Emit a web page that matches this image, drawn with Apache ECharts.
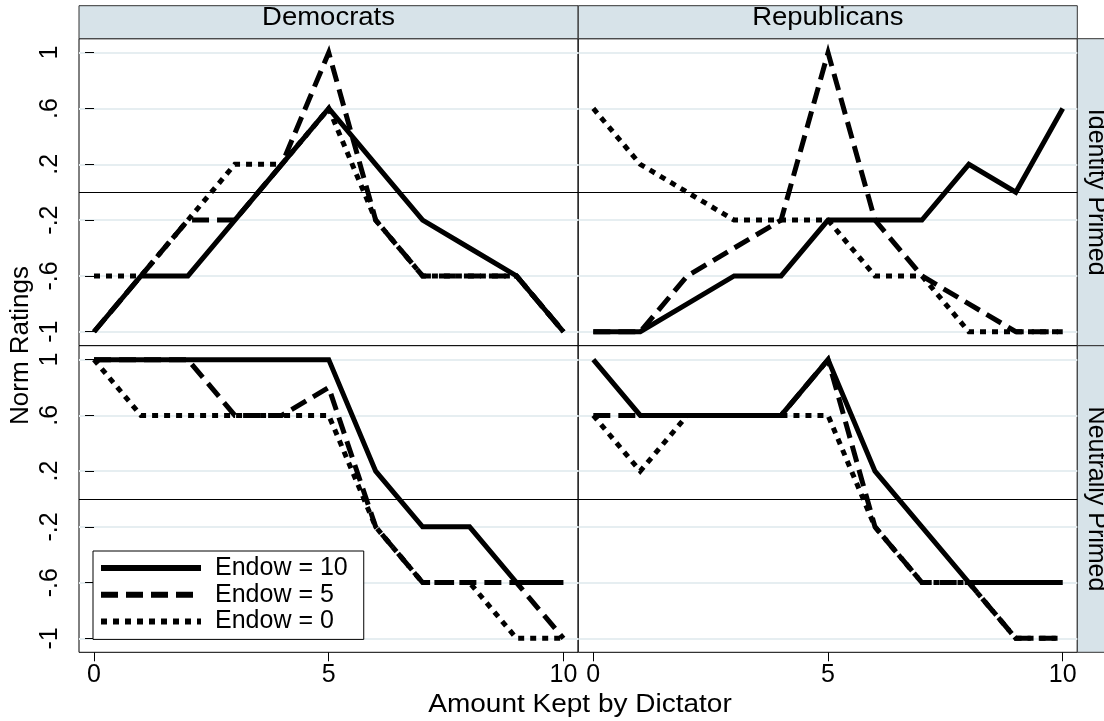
<!DOCTYPE html>
<html>
<head>
<meta charset="utf-8">
<script src="https://cdn.jsdelivr.net/npm/echarts@6/dist/echarts.min.js"></script>
<style>
  html, body { margin: 0; padding: 0; background: #fff; }
  #chart { width: 1104px; height: 721px; }
</style>
</head>
<body>
<div id="chart"></div>
<script>
// amount kept by the dictator (x)
const kept = [0, 1, 2, 3, 4, 5, 6, 7, 8, 9, 10]
const xTicks = [0, 5, 10]
const yTicks = [-1, -0.6, -0.2, 0.2, 0.6, 1]
const yTickLabels = ['-1', '-.6', '-.2', '.2', '.6', '1']
const parties = ['Democrats', 'Republicans']
const primes = ['Identity Primed', 'Neutrally Primed']
const endowNames = ['Endow = 10', 'Endow = 5', 'Endow = 0']

// Democrats, identity primed
const demIdEndow10 = [-1, -0.6, -0.6, -0.2, 0.2, 0.6, 0.2, -0.2, -0.4, -0.6, -1]
const demIdEndow5 = [-1, -0.6, -0.2, -0.2, 0.2, 1, -0.2, -0.6, -0.6, -0.6, -1]
const demIdEndow0 = [-0.6, -0.6, -0.2, 0.2, 0.2, 0.6, -0.2, -0.6, -0.6, -0.6, -1]
// Republicans, identity primed
const repIdEndow10 = [-1, -1, -0.8, -0.6, -0.6, -0.2, -0.2, -0.2, 0.2, 0, 0.6]
const repIdEndow5 = [-1, -1, -0.6, -0.4, -0.2, 1, -0.2, -0.6, -0.8, -1, -1]
const repIdEndow0 = [0.6, 0.2, 0, -0.2, -0.2, -0.2, -0.6, -0.6, -1, -1, -1]
// Democrats, neutrally primed
const demNeEndow10 = [1, 1, 1, 1, 1, 1, 0.2, -0.2, -0.2, -0.6, -0.6]
const demNeEndow5 = [1, 1, 1, 0.6, 0.6, 0.8, -0.2, -0.6, -0.6, -0.6, -1]
const demNeEndow0 = [1, 0.6, 0.6, 0.6, 0.6, 0.6, -0.2, -0.6, -0.6, -1, -1]
// Republicans, neutrally primed
const repNeEndow10 = [1, 0.6, 0.6, 0.6, 0.6, 1, 0.2, -0.2, -0.6, -0.6, -0.6]
const repNeEndow5 = [0.6, 0.6, 0.6, 0.6, 0.6, 1, -0.2, -0.6, -0.6, -1, -1]
const repNeEndow0 = [0.6, 0.2, 0.6, 0.6, 0.6, 0.6, -0.2, -0.6, -0.6, -1, -1]

const panelData = [
  [demIdEndow10, demIdEndow5, demIdEndow0],
  [repIdEndow10, repIdEndow5, repIdEndow0],
  [demNeEndow10, demNeEndow5, demNeEndow0],
  [repNeEndow10, repNeEndow5, repNeEndow0]
]

const font = 'Liberation Sans, Arial, Helvetica, sans-serif'
const fontSize = 25
const lineTypes = ['solid', [17, 8], [6, 6]]
const stripColor = '#d7e3e9'

// panel layout: left column / right column, top row / bottom row
const colLeft = [79, 578.3]
const rowTop = [38.7, 345.7]
const panelW = 499
const panelH = [307, 306.6]

function tickLabel (v) {
  for (let i = 0; i < yTicks.length; i++) {
    if (Math.abs(yTicks[i] - v) < 1e-6) return yTickLabels[i]
  }
  return ''
}

let grids = []
let xAxes = []
let yAxes = []
let series = []

for (let p = 0; p < 4; p++) {
  let row = Math.floor(p / 2)
  let col = p % 2
  grids.push({
    left: colLeft[col],
    top: rowTop[row],
    width: panelW,
    height: panelH[row],
    show: true,
    backgroundColor: '#fff',
    borderColor: '#000',
    borderWidth: 1
  })
  xAxes.push({
    gridIndex: p,
    type: 'value',
    min: -0.32,
    max: 10.31,
    axisLine: { show: false, onZero: false },
    axisTick: {
      show: row === 1,
      length: 9,
      customValues: xTicks,
      lineStyle: { color: '#000', width: 1 }
    },
    axisLabel: {
      show: row === 1,
      customValues: xTicks,
      margin: 10,
      fontSize: fontSize,
      fontFamily: font,
      color: '#000'
    },
    splitLine: { show: false }
  })
  yAxes.push({
    gridIndex: p,
    type: 'value',
    min: -1.1,
    max: 1.1,
    axisLine: { show: false },
    axisTick: {
      show: col === 0,
      length: 9,
      customValues: yTicks,
      lineStyle: { color: '#000', width: 1 }
    },
    axisLabel: {
      show: col === 0,
      customValues: yTicks,
      rotate: 90,
      margin: 16,
      fontSize: fontSize,
      fontFamily: font,
      color: '#000',
      formatter: tickLabel
    },
    splitLine: {
      show: true,
      lineStyle: { color: '#e6eef1', width: 2 }
    }
  })
  for (let s = 0; s < 3; s++) {
    let vals = panelData[p][s]
    let item = {
      name: endowNames[s],
      type: 'line',
      xAxisIndex: p,
      yAxisIndex: p,
      symbol: 'none',
      silent: true,
      animation: false,
      z: 5 - s,
      lineStyle: { color: '#000', width: 5, type: lineTypes[s], cap: 'butt', join: 'miter' },
      itemStyle: { color: '#000' },
      data: kept.map((k, i) => [k, vals[i]])
    }
    if (s === 0) {
      item.markLine = {
        silent: true,
        symbol: 'none',
        label: { show: false },
        animation: false,
        z: 1,
        lineStyle: { color: '#000', width: 1, type: 'solid' },
        data: [{ yAxis: 0 }]
      }
    }
    series.push(item)
  }
}

let graphics = []
// column strips
for (let c = 0; c < 2; c++) {
  graphics.push({
    type: 'rect',
    shape: { x: colLeft[c], y: 5.7, width: panelW, height: 33 },
    style: { fill: stripColor, stroke: '#333', lineWidth: 1 }
  })
  graphics.push({
    type: 'text',
    x: colLeft[c] + panelW / 2,
    y: 18.4,
    scaleX: 1.1,
    style: { text: parties[c], font: fontSize + 'px ' + font, fill: '#000', textAlign: 'center', textVerticalAlign: 'middle' }
  })
}
// row strips
for (let r = 0; r < 2; r++) {
  graphics.push({
    type: 'rect',
    shape: { x: colLeft[1] + panelW, y: rowTop[r], width: 40, height: panelH[r] },
    style: { fill: stripColor, stroke: '#333', lineWidth: 1 }
  })
  graphics.push({
    type: 'text',
    x: 1096,
    y: rowTop[r] + panelH[r] / 2,
    rotation: -Math.PI / 2,
    style: { text: primes[r], font: fontSize + 'px ' + font, fill: '#000', textAlign: 'center', textVerticalAlign: 'middle' }
  })
}
// axis titles
graphics.push({
  type: 'text',
  x: 580,
  y: 705,
  scaleX: 1.12,
  style: { text: 'Amount Kept by Dictator', font: fontSize + 'px ' + font, fill: '#000', textAlign: 'center', textVerticalAlign: 'middle' }
})
graphics.push({
  type: 'text',
  x: 21,
  y: 345.5,
  rotation: Math.PI / 2,
  style: { text: 'Norm Ratings', font: '26px ' + font, fill: '#000', textAlign: 'center', textVerticalAlign: 'middle' }
})

let myChart = echarts.init(document.getElementById('chart'), null, { renderer: 'canvas' })
myChart.setOption({
  animation: false,
  backgroundColor: '#fff',
  grid: grids,
  xAxis: xAxes,
  yAxis: yAxes,
  series: series,
  graphic: graphics,
  legend: {
    data: endowNames,
    orient: 'vertical',
    left: 93,
    top: 551,
    padding: [4, 16, 5, 5],
    itemWidth: 100,
    itemHeight: 20,
    itemGap: 0.7,
    selectedMode: false,
    backgroundColor: '#fff',
    borderColor: '#000',
    borderWidth: 1,
    borderRadius: 0,
    itemStyle: { opacity: 0 },
    lineStyle: { width: 6 },
    textStyle: { fontSize: fontSize, lineHeight: 26, fontFamily: font, color: '#000', padding: [0, 0, 0, 9] },
    z: 10
  }
})
</script>
</body>
</html>
